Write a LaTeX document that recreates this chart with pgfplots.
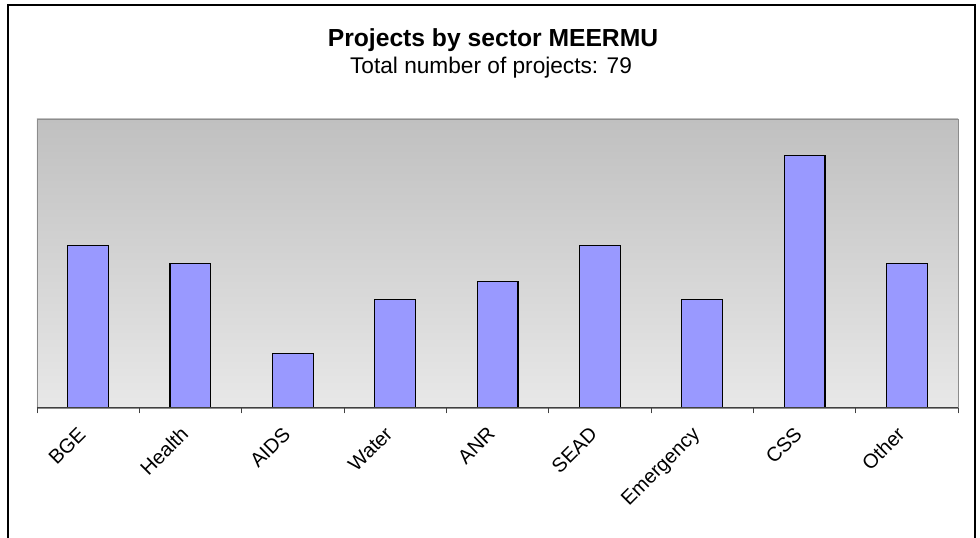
\documentclass[border=0pt]{standalone}
\usepackage{fontspec}
\setmainfont{Liberation Sans}
\usepackage{pgfplots}
\pgfplotsset{compat=1.18}
\definecolor{barfill}{HTML}{9999FF}
\definecolor{bgtop}{HTML}{C0C0C0}
\definecolor{bgbot}{HTML}{E8E8E8}
\begin{document}
\begin{tikzpicture}[x=0.75pt,y=0.75pt]
\useasboundingbox (0,0) rectangle (980,538);
\draw[line width=0.9pt] (8,-20) -- (8,533) -- (975,533) -- (975,-20);
\node[font=\bfseries\fontsize{18.5}{22}\selectfont] at (493,498) {Projects by sector MEERMU};
\node[font=\fontsize{17}{20}\selectfont] at (491,470) {Total number of projects: 79};
\begin{axis}[
  at={(27.75pt,97.5pt)}, anchor=south west,
  scale only axis, width=690.75pt, height=216.75pt,
  xmin=-0.5, xmax=8.5, ymin=1, ymax=17,
  ytick=\empty,
  xtick={-0.11,0.89,1.89,2.89,3.89,4.89,5.89,6.89,7.89},
  xticklabels={BGE,Health,AIDS,Water,ANR,SEAD,Emergency,CSS,Other},
  major tick length=0pt,
  xtick pos=bottom,
  extra x ticks={-0.5,0.5,...,8.5},
  extra x tick labels={},
  extra x tick style={major tick length=4pt, tick align=outside, tick style={black!75, line width=0.6pt}},
  xticklabel style={rotate=45, anchor=north east, font=\fontsize{15}{17}\selectfont, inner sep=0pt},
  xticklabel shift=13pt,
  axis line style={draw=gray!90, line width=0.6pt},
  axis background/.style={top color=bgtop, bottom color=bgbot},
  ybar, bar width=0.4,
  after end axis/.code={\draw[black!75, line width=0.75pt] (rel axis cs:0,0) -- (rel axis cs:1,0);},
]
\addplot[fill=barfill, draw=black, line width=0.8pt] coordinates {
  (0,10) (1,9) (2,4) (3,7) (4,8) (5,10) (6,7) (7,15) (8,9)
};
\end{axis}
\end{tikzpicture}
\end{document}
